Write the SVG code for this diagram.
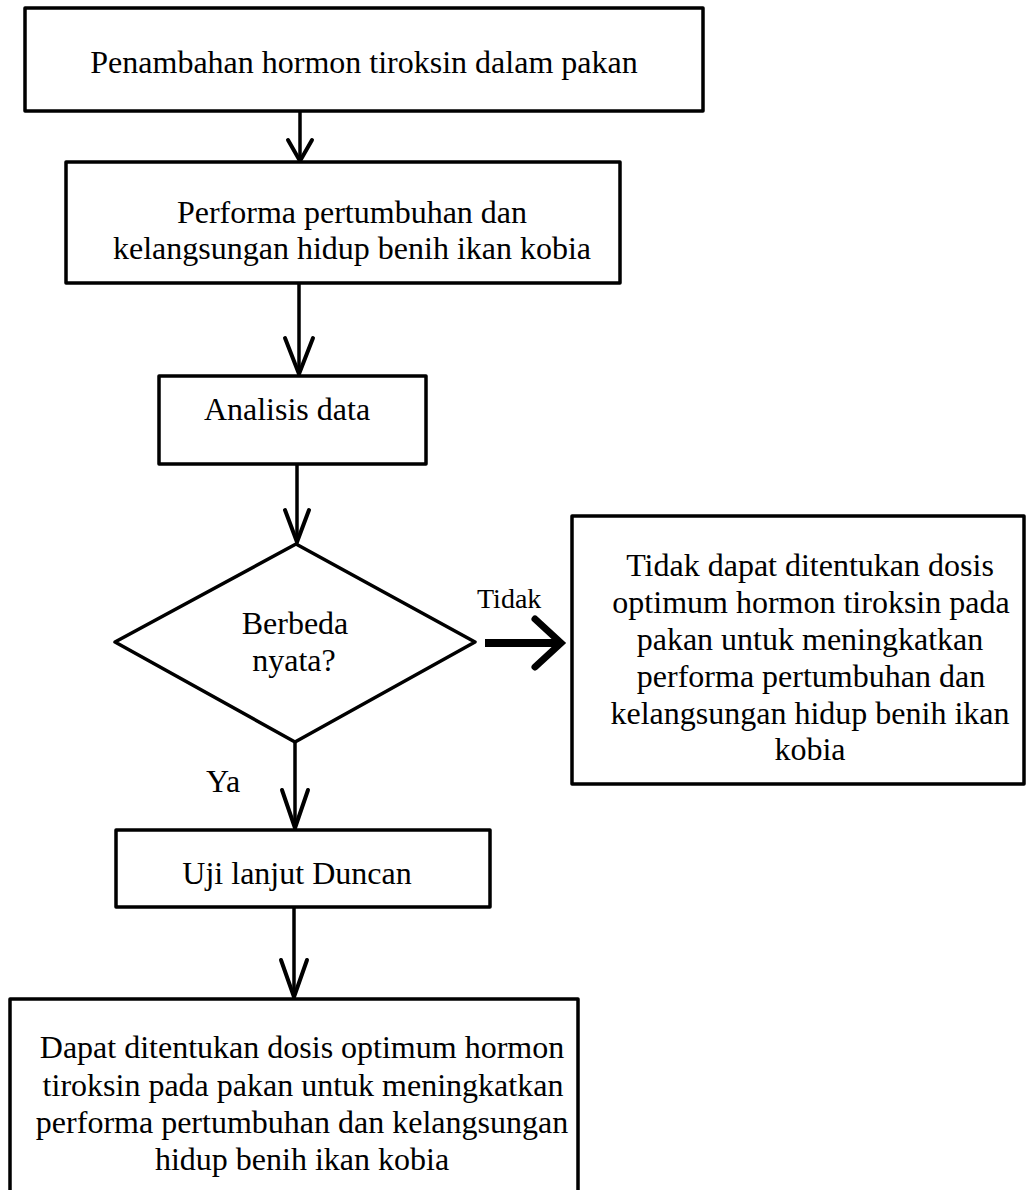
<svg xmlns="http://www.w3.org/2000/svg" width="1027" height="1190" viewBox="0 0 1027 1190">
  <style>
    .box { fill: #ffffff; stroke: #000000; stroke-width: 3.5; stroke-linejoin: round; }
    .t { font-family: "Liberation Serif", "Times New Roman", serif; font-size: 32px; fill: #000000; }
    .c { text-anchor: middle; }
    .ln { fill: none; stroke: #000000; stroke-width: 3.5; stroke-linecap: butt; }
    .hd { fill: none; stroke: #000000; stroke-width: 4; stroke-linejoin: miter; stroke-linecap: round; }
    .thick { fill: none; stroke: #000000; stroke-width: 8; stroke-linecap: butt; }
    .thickhd { fill: none; stroke: #000000; stroke-width: 7; stroke-linejoin: miter; stroke-linecap: round; }
  </style>
  <rect width="1027" height="1190" fill="#ffffff"/>

  <g id="connectors">
    <line class="ln" x1="300" y1="111" x2="300" y2="160"/>
    <polyline class="hd" points="288,140 300,161 312,140"/>

    <line class="ln" x1="299" y1="283" x2="299" y2="373"/>
    <polyline class="hd" points="285,338 299,374 313,338"/>

    <line class="ln" x1="297" y1="464" x2="297" y2="541"/>
    <polyline class="hd" points="285,510 297,542 309,510"/>

    <line class="ln" x1="295" y1="742" x2="295" y2="827"/>
    <polyline class="hd" points="282,790 295,828 308,790"/>

    <line class="ln" x1="294" y1="907" x2="294" y2="996"/>
    <polyline class="hd" points="281,960 294,997 307,960"/>

    <line class="thick" x1="485" y1="643" x2="558" y2="643"/>
    <polyline class="thickhd" points="535,619 561,643 535,667"/>
  </g>

  <g id="n1">
    <rect class="box" x="25" y="8" width="678" height="103"/>
    <text class="t c" x="364" y="73">Penambahan hormon tiroksin dalam pakan</text>
  </g>

  <g id="n2">
    <rect class="box" x="66" y="162" width="554" height="121"/>
    <text class="t c" x="352" y="223">Performa pertumbuhan dan</text>
    <text class="t c" x="352" y="259">kelangsungan hidup benih ikan kobia</text>
  </g>

  <g id="n3">
    <rect class="box" x="159" y="376" width="267" height="88"/>
    <text class="t c" x="287" y="420">Analisis data</text>
  </g>

  <g id="n4">
    <polygon class="box" points="296,544 475,642 295,742 115,642"/>
    <text class="t c" x="295" y="634">Berbeda</text>
    <text class="t c" x="294" y="671">nyata?</text>
  </g>

  <g id="label-tidak">
    <text class="t" x="477" y="608" style="font-size:28px">Tidak</text>
  </g>

  <g id="label-ya">
    <text class="t" x="206" y="792">Ya</text>
  </g>

  <g id="n5">
    <rect class="box" x="572" y="516" width="452" height="268"/>
    <text class="t c" x="810" y="576">Tidak dapat ditentukan dosis</text>
    <text class="t c" x="811" y="613">optimum hormon tiroksin pada</text>
    <text class="t c" x="810" y="650">pakan untuk meningkatkan</text>
    <text class="t c" x="811" y="687">performa pertumbuhan dan</text>
    <text class="t c" x="810" y="724">kelangsungan hidup benih ikan</text>
    <text class="t c" x="810" y="760">kobia</text>
  </g>

  <g id="n6">
    <rect class="box" x="116" y="830" width="374" height="77"/>
    <text class="t c" x="297" y="884">Uji lanjut Duncan</text>
  </g>

  <g id="n7">
    <rect class="box" x="10" y="999" width="568" height="220"/>
    <text class="t c" x="302" y="1058">Dapat ditentukan dosis optimum hormon</text>
    <text class="t c" x="303" y="1096">tiroksin pada pakan untuk meningkatkan</text>
    <text class="t c" x="302" y="1133">performa pertumbuhan dan kelangsungan</text>
    <text class="t c" x="302" y="1170">hidup benih ikan kobia</text>
  </g>
</svg>
